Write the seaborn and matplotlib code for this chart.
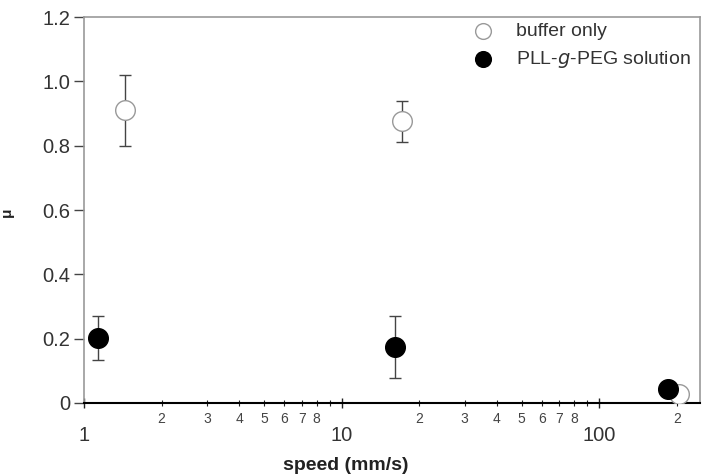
import numpy as np
import pandas as pd
import seaborn as sns
import matplotlib.pyplot as plt
from matplotlib.ticker import LogLocator, FuncFormatter, FixedLocator

sns.set_style("white")
plt.rcParams['font.family'] = ['Liberation Sans', 'DejaVu Sans']

# data
buffer_speed = [1.44, 17.1, 203]
buffer_mu = [0.911, 0.877, 0.028]
buffer_lo = [0.80, 0.812, 0.028]
buffer_hi = [1.02, 0.94, 0.028]

pll_speed = [1.13, 16.1, 184]
pll_mu = [0.201, 0.175, 0.044]
pll_lo = [0.134, 0.079, 0.044]
pll_hi = [0.27, 0.271, 0.044]

series = [
    ("buffer only", buffer_speed, buffer_mu, buffer_lo, buffer_hi, "white", "#999999"),
    ("PLL-$g$-PEG solution", pll_speed, pll_mu, pll_lo, pll_hi, "black", "black"),
]

fig = plt.figure(figsize=(7.02, 4.75), dpi=100)
ax = fig.add_axes([84 / 702, 1 - 403 / 475, 616 / 702, 386 / 475])

for name, xs, ys, lo, hi, fc, ec in series:
    df = pd.DataFrame({"speed": xs, "mu": ys})
    yerr = [np.array(ys) - np.array(lo), np.array(hi) - np.array(ys)]
    ax.errorbar(xs, ys, yerr=yerr, fmt="none", ecolor="#444444",
                elinewidth=1, capsize=4, capthick=1, zorder=2)
    sns.scatterplot(data=df, x="speed", y="mu", ax=ax, s=200,
                    facecolor=fc, edgecolor=ec, linewidth=1,
                    label=name, zorder=3)

ax.set_xscale("log")
ax.set_xlim(1, 246)
ax.set_ylim(0, 1.2)

# x ticks: major decades with big labels, minor ticks with small digits
ax.xaxis.set_major_locator(FixedLocator([1, 10, 100]))
ax.xaxis.set_minor_locator(LogLocator(base=10, subs=np.arange(2, 10), numticks=20))
ax.xaxis.set_major_formatter(FuncFormatter(lambda v, p: f"{int(round(v))}"))

def minor_fmt(v, p):
    d = int(round(v / 10 ** np.floor(np.log10(v) + 1e-9)))
    return "" if d == 9 else str(d)

ax.xaxis.set_minor_formatter(FuncFormatter(minor_fmt))
ax.tick_params(axis="x", which="major", direction="inout", length=7, width=1,
               color="#222222", labelsize=14.5, pad=13, labelcolor="#333333")
ax.tick_params(axis="x", which="minor", direction="inout", length=5, width=0.8,
               color="#222222", labelsize=10, pad=4, labelcolor="#444444")

ax.set_yticks([0, 0.2, 0.4, 0.6, 0.8, 1.0, 1.2])
ax.yaxis.set_major_formatter(FuncFormatter(lambda v, p: "0" if v == 0 else f"{v:.1f}"))
ax.tick_params(axis="y", which="major", direction="out", length=7, width=1,
               color="#444444", labelsize=14.5, pad=3, labelcolor="#333333")
ax.tick_params(axis="y", left=True)
ax.tick_params(axis="x", bottom=True, which="both")

for side in ["left", "top", "right"]:
    ax.spines[side].set_color("#999999")
    ax.spines[side].set_linewidth(1.2)
ax.spines["bottom"].set_color("black")
ax.spines["bottom"].set_linewidth(1.5)

ax.set_xlabel("speed (mm/s)", fontsize=14, fontweight="bold", color="#222222")
ax.xaxis.set_label_coords((346 - 84) / 616, -(465 - 403) / 386)
ax.xaxis.label.set_verticalalignment("center")
ax.set_ylabel("μ", fontsize=11, fontweight="bold", color="#222222")
ax.yaxis.set_label_coords(-(84 - 14) / 616, (403 - 212) / 386)

leg = ax.legend(loc="upper right", frameon=False, fontsize=14,
                borderaxespad=0.0, handletextpad=0.7, labelspacing=0.45,
                markerscale=0.8, bbox_to_anchor=(0.998, 1.005))
for t in leg.get_texts():
    t.set_color("#333333")

fig.savefig("out.png", dpi=100)
